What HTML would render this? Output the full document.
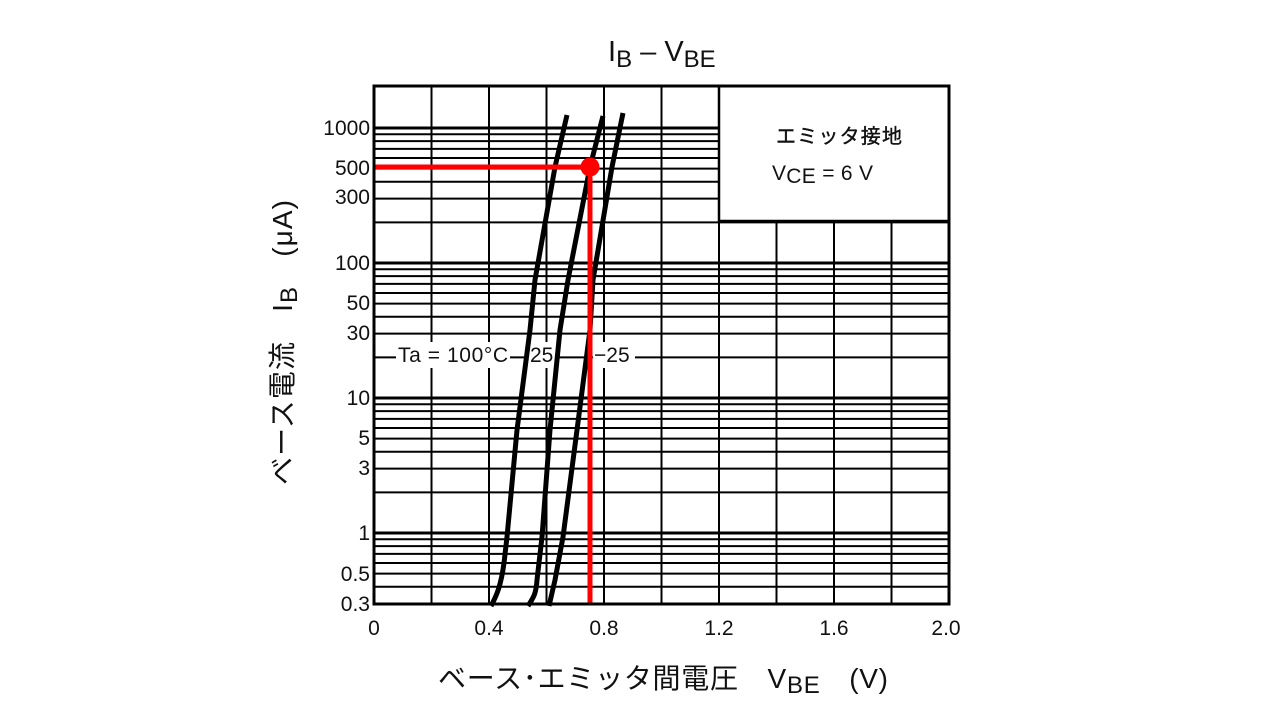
<!DOCTYPE html>
<html><head><meta charset="utf-8"><style>
html,body{margin:0;padding:0;background:#fff;}
svg{display:block;}
text{font-family:"Liberation Sans","Noto Sans CJK JP",sans-serif;fill:#111;}
</style></head><body>
<svg width="1280" height="720" viewBox="0 0 1280 720" xmlns="http://www.w3.org/2000/svg">
<rect width="1280" height="720" fill="#fff"/>
<path stroke="#000" stroke-width="2" fill="none" d="
M374 586.7H949 M374 573.6H949 M374 563H949 M374 553.9H949 M374 546.1H949 M374 539.2H949 M374 533H949
M374 492.4H949 M374 468.6H949 M374 451.7H949 M374 438.6H949 M374 428H949 M374 418.9H949 M374 411.1H949 M374 404.2H949 M374 398H949
M374 357.4H949 M374 333.6H949 M374 316.7H949 M374 303.6H949 M374 293H949 M374 283.9H949 M374 276.1H949 M374 269.2H949 M374 263H949
M374 222.4H949 M374 198.6H949 M374 181.7H949 M374 168.6H949 M374 158H949 M374 148.9H949 M374 141.1H949 M374 134.2H949 M374 128H949"/>
<path stroke="#000" stroke-width="3" fill="none" d="M374 533H949 M374 398H949 M374 263H949 M374 128H949"/>
<path stroke="#000" stroke-width="2" fill="none" d="M431.5 86V604 M489 86V604 M546.5 86V604 M604 86V604 M661.5 86V604 M719 86V604 M776.5 86V604 M834 86V604 M891.5 86V604"/>
<rect x="719" y="86" width="230" height="135" fill="#fff" stroke="#000" stroke-width="2.5"/>
<text x="776" y="143" font-size="20" textLength="126" stroke="#111" stroke-width="0.4">エミッタ接地</text>
<text x="772" y="180" font-size="21" textLength="101">V<tspan dy="3">CE</tspan><tspan dy="-3"> = 6 V</tspan></text>
<rect x="396" y="342" width="114" height="26" fill="#fff"/>
<rect x="527" y="342" width="30" height="26" fill="#fff"/>
<rect x="593" y="342" width="42" height="26" fill="#fff"/>
<text x="398" y="362" font-size="21" textLength="110">Ta = 100°C</text>
<text x="530" y="362" font-size="21">25</text>
<text x="594" y="362" font-size="21">−25</text>
<g stroke="#000" stroke-width="5" fill="none">
<path d="M491 606 C497 595 501 585 504 563 L507 537 L517 430 L530 330 L535 280 L555 167 L567 115"/>
<path d="M528 606 C533 598 536 595 537 580 L542 537 L550 430 L560 330 L568 280 L590 167 L603 116"/>
<path d="M549 606 L555 580 L563 537 L577 430 L590 330 L593 280 L612 167 L623 113"/>
</g>
<path stroke="#f00" stroke-width="5" fill="none" d="M374 167H590V604"/>
<circle cx="590" cy="167" r="9.5" fill="#f00"/>
<rect x="374" y="86" width="575" height="518" fill="none" stroke="#000" stroke-width="3"/>
<g font-size="21" text-anchor="end">
<text x="370" y="135">1000</text>
<text x="370" y="175">500</text>
<text x="370" y="204">300</text>
<text x="370" y="270">100</text>
<text x="370" y="310">50</text>
<text x="370" y="340">30</text>
<text x="370" y="405">10</text>
<text x="370" y="445">5</text>
<text x="370" y="475">3</text>
<text x="370" y="540">1</text>
<text x="370" y="581">0.5</text>
<text x="370" y="611">0.3</text>
</g>
<g font-size="21" text-anchor="middle">
<text x="374" y="635">0</text>
<text x="489" y="635">0.4</text>
<text x="604" y="635">0.8</text>
<text x="719" y="635">1.2</text>
<text x="834" y="635">1.6</text>
<text x="946" y="635">2.0</text>
</g>
<text x="608" y="61" font-size="29">I<tspan font-size="24" dy="6">B</tspan><tspan dy="-6"> – V</tspan><tspan font-size="24" dy="6">BE</tspan></text>
<text x="438" y="688" font-size="28" textLength="450">ベース･エミッタ間電圧　V<tspan font-size="24" dy="5">BE</tspan><tspan dy="-5">　(V)</tspan></text>
<text transform="translate(292,485) rotate(-90)" font-size="28" textLength="285">ベース電流　I<tspan font-size="24" dy="5">B</tspan><tspan dy="-5">　(μA)</tspan></text>
</svg>
</body></html>
